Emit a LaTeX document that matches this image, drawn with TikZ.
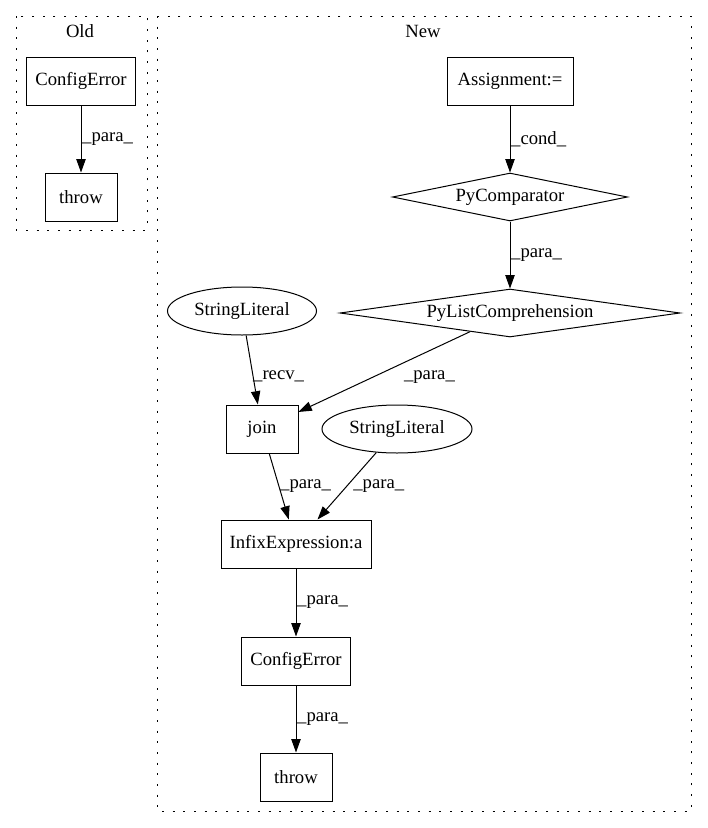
\documentclass[tikz,border=0pt]{standalone}
\usepackage{fontspec}
\setmainfont{Liberation Serif}
\usetikzlibrary{shapes.geometric,arrows.meta}
\begin{document}
\begin{tikzpicture}[x=0.75pt,y=-0.75pt,
 font=\fontsize{14}{16}\selectfont,
 box/.style={draw,line width=0.75pt,rectangle,minimum height=36pt,inner sep=0pt},
 ell/.style={draw,ellipse,line width=0.75pt,minimum height=36pt,inner sep=0pt},
 dia/.style={draw,diamond,line width=0.75pt,inner sep=0pt,minimum height=36pt},
 arr/.style={-{Triangle[length=10pt,width=7pt]},line width=0.75pt},
 lbl/.style={anchor=west,inner sep=0.5pt},
 clus/.style={draw,line width=0.75pt,dash pattern=on 1.5pt off 6.5pt}]
\useasboundingbox (0,0) rectangle (707,828);
\draw[clus] (16,16) rectangle (147,230);
\draw[clus] (157,16) rectangle (691,811);
\node (oldt) at (80,31) {Old};
\node (newt) at (423,31) {New};
% Old
\node[box,minimum width=81.75pt] (oce) at (81,81) {ConfigError};
\node[box,minimum width=54pt] (othrow) at (81,197) {throw};
% New
\node[box,minimum width=94.5pt] (assign) at (510,81) {Assignment:=};
\node[dia,aspect=4.9,minimum width=176.25pt] (pycomp) at (510,197) {PyComparator};
\node[dia,aspect=7.08,minimum width=255pt] (pylist) at (510,313) {PyListComprehension};
\node[ell,minimum width=111.75pt] (sl1) at (242,311) {StringLiteral};
\node[box,minimum width=54pt] (join) at (262,429) {join};
\node[ell,minimum width=112.5pt] (sl2) at (397,429) {StringLiteral};
\node[box,minimum width=112.5pt] (infix) at (296,544) {InfixExpression:a};
\node[box,minimum width=81.75pt] (nce) at (296,661) {ConfigError};
\node[box,minimum width=54pt] (nthrow) at (296,777) {throw};
% edges
\draw[arr] (oce) -- node[lbl]{\_para\_} (othrow);
\draw[arr] (assign) -- node[lbl]{\_cond\_} (pycomp);
\draw[arr] (pycomp) -- node[lbl]{\_para\_} (pylist);
\draw[arr] (sl1) -- node[lbl,yshift=-5pt]{\_recv\_} (join);
\draw[arr] (pylist) -- node[lbl,xshift=14pt,yshift=-4pt]{\_para\_} (join);
\draw[arr] (join) -- node[lbl]{\_para\_} (infix);
\draw[arr] (sl2) -- node[lbl,xshift=4pt]{\_para\_} (infix);
\draw[arr] (infix) -- node[lbl]{\_para\_} (nce);
\draw[arr] (nce) -- node[lbl]{\_para\_} (nthrow);
\end{tikzpicture}
\end{document}
